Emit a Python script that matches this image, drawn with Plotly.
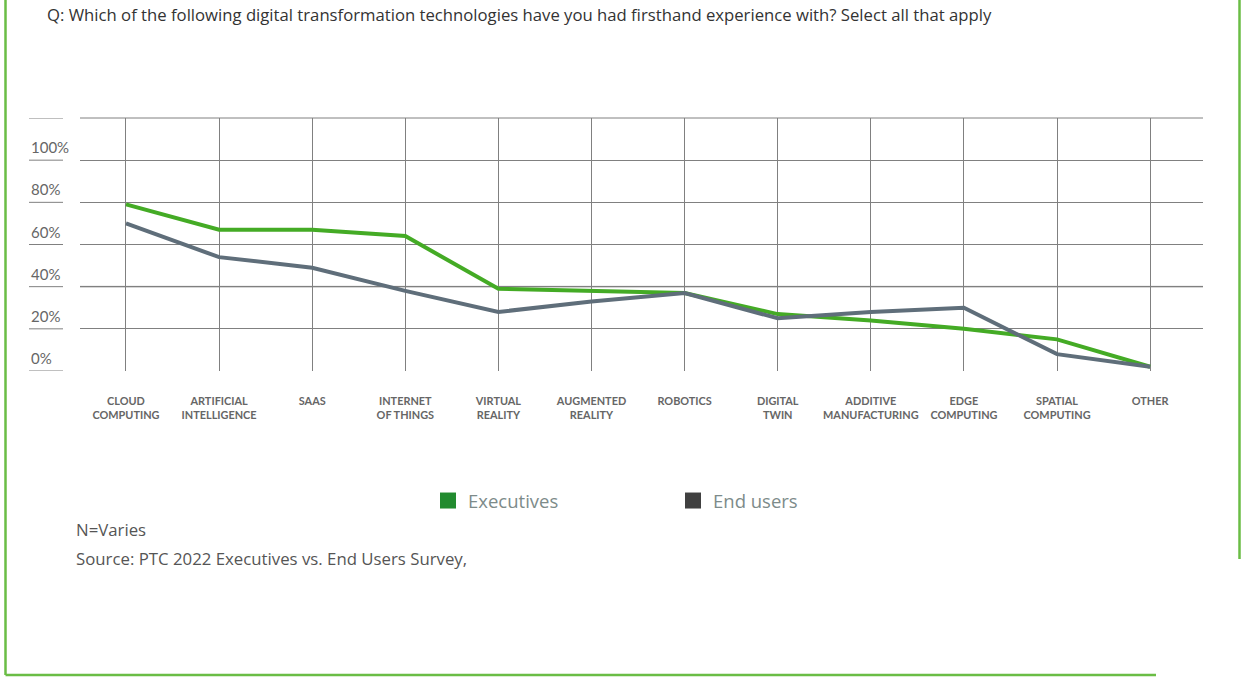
import plotly.graph_objects as go

categories = ["CLOUD<br>COMPUTING", "ARTIFICIAL<br>INTELLIGENCE", "SAAS", "INTERNET<br>OF THINGS",
              "VIRTUAL<br>REALITY", "AUGMENTED<br>REALITY", "ROBOTICS", "DIGITAL<br>TWIN",
              "ADDITIVE<br>MANUFACTURING", "EDGE<br>COMPUTING", "SPATIAL<br>COMPUTING", "OTHER"]
executives = [79, 67, 67, 64, 39, 38, 37, 27, 24, 20, 15, 2]
end_users = [70, 54, 49, 38, 28, 33, 37, 25, 28, 30, 8, 2]
y_tick_values = [0, 20, 40, 60, 80, 100]
y_tick_labels = ["0%", "20%", "40%", "60%", "80%", "100%"]
grid_values = [0, 20, 40, 60, 80, 100, 120]

title_text = "Q: Which of the following digital transformation technologies have you had firsthand experience with? Select all that apply"
footer_n = "N=Varies"
footer_src = "Source: PTC 2022 Executives vs. End Users Survey,"

FONT = "Lato"
W, H = 1241, 677
L, R, T, B = 80, 38, 118, 306
PW = W - L - R
PH = H - T - B

def px(xp):
    return (xp - L) / PW

def py(yp):
    return (H - B - yp) / PH

fig = go.Figure()
fig.add_trace(go.Scatter(x=categories, y=executives, mode="lines", name="Executives",
                         line=dict(color="#44ab25", width=4), showlegend=False))
fig.add_trace(go.Scatter(x=categories, y=end_users, mode="lines", name="End users",
                         line=dict(color="#5f6e7a", width=4), showlegend=False))
# legend entries (square swatches)
fig.add_trace(go.Scatter(x=[None], y=[None], mode="markers", name="Executives",
                         marker=dict(symbol="square", size=16, color="#228b2f")))
fig.add_trace(go.Scatter(x=[None], y=[None], mode="markers", name="End users",
                         marker=dict(symbol="square", size=16, color="#404040")))

shapes = []
# top gridline (at range edge, unclipped)
shapes.append(dict(type="line", xref="paper", yref="paper", x0=0, x1=1, y0=1, y1=1,
                   line=dict(color="#808080", width=1), layer="between"))
# light 40% gridline
shapes.append(dict(type="line", xref="paper", yref="y", x0=0, x1=1, y0=40, y1=40,
                   line=dict(color="#c8c8c8", width=2), layer="between"))
# left short segments next to labels
for v in grid_values:
    shapes.append(dict(type="line", xref="paper", yref="y", x0=px(29), x1=px(63), y0=v, y1=v,
                       line=dict(color="#808080", width=1)))
# green frame lines
frame = "#6abd45"
shapes.append(dict(type="line", xref="paper", yref="paper", x0=px(5.5), x1=px(5.5), y0=py(0), y1=py(675),
                   line=dict(color=frame, width=2.5)))
shapes.append(dict(type="line", xref="paper", yref="paper", x0=px(5.5), x1=px(1156), y0=py(675), y1=py(675),
                   line=dict(color=frame, width=2.5)))
shapes.append(dict(type="line", xref="paper", yref="paper", x0=px(1239.5), x1=px(1239.5), y0=py(0), y1=py(559),
                   line=dict(color=frame, width=2.5)))

annotations = []
for v, t in zip(y_tick_values, y_tick_labels):
    annotations.append(dict(x=px(29), xref="paper", y=v, yref="y", text=t, showarrow=False,
                            xanchor="left", yanchor="bottom", yshift=2,
                            font=dict(family=FONT, size=15, color="#666666")))
annotations.append(dict(x=px(45), xref="paper", y=py(15), yref="paper", text=title_text, showarrow=False,
                        xanchor="left", yanchor="middle", font=dict(family="Open Sans", size=16.7, color="#333333")))
annotations.append(dict(x=px(74), xref="paper", y=py(529), yref="paper", text=footer_n, showarrow=False,
                        xanchor="left", yanchor="middle", font=dict(family="Open Sans", size=16.8, color="#555555")))
annotations.append(dict(x=px(74), xref="paper", y=py(558), yref="paper", text=footer_src, showarrow=False,
                        xanchor="left", yanchor="middle", font=dict(family="Open Sans", size=16.8, color="#555555")))

fig.update_layout(
    width=W, height=H,
    margin=dict(l=L, r=R, t=T, b=B, pad=0),
    paper_bgcolor="white", plot_bgcolor="white",
    shapes=shapes, annotations=annotations,
    legend=dict(orientation="h", x=px(428), xanchor="left", y=py(501), yanchor="middle",
                entrywidth=200, font=dict(family="Open Sans", size=18.5, color="#7d8b8a"),
                itemsizing="trace"),
    xaxis=dict(type="category", range=[-0.494, 11.568], showgrid=True, gridcolor="#808080", gridwidth=1,
               showline=False, zeroline=False, ticks="", ticklabelstandoff=22,
               tickfont=dict(family=FONT, size=10.9, color="#666666", weight="bold")),
    yaxis=dict(range=[0, 120], tickvals=grid_values, showticklabels=False, showgrid=True,
               gridcolor="#808080", gridwidth=1, zeroline=False, showline=False, ticks=""),
)

fig.write_html("out.html")
